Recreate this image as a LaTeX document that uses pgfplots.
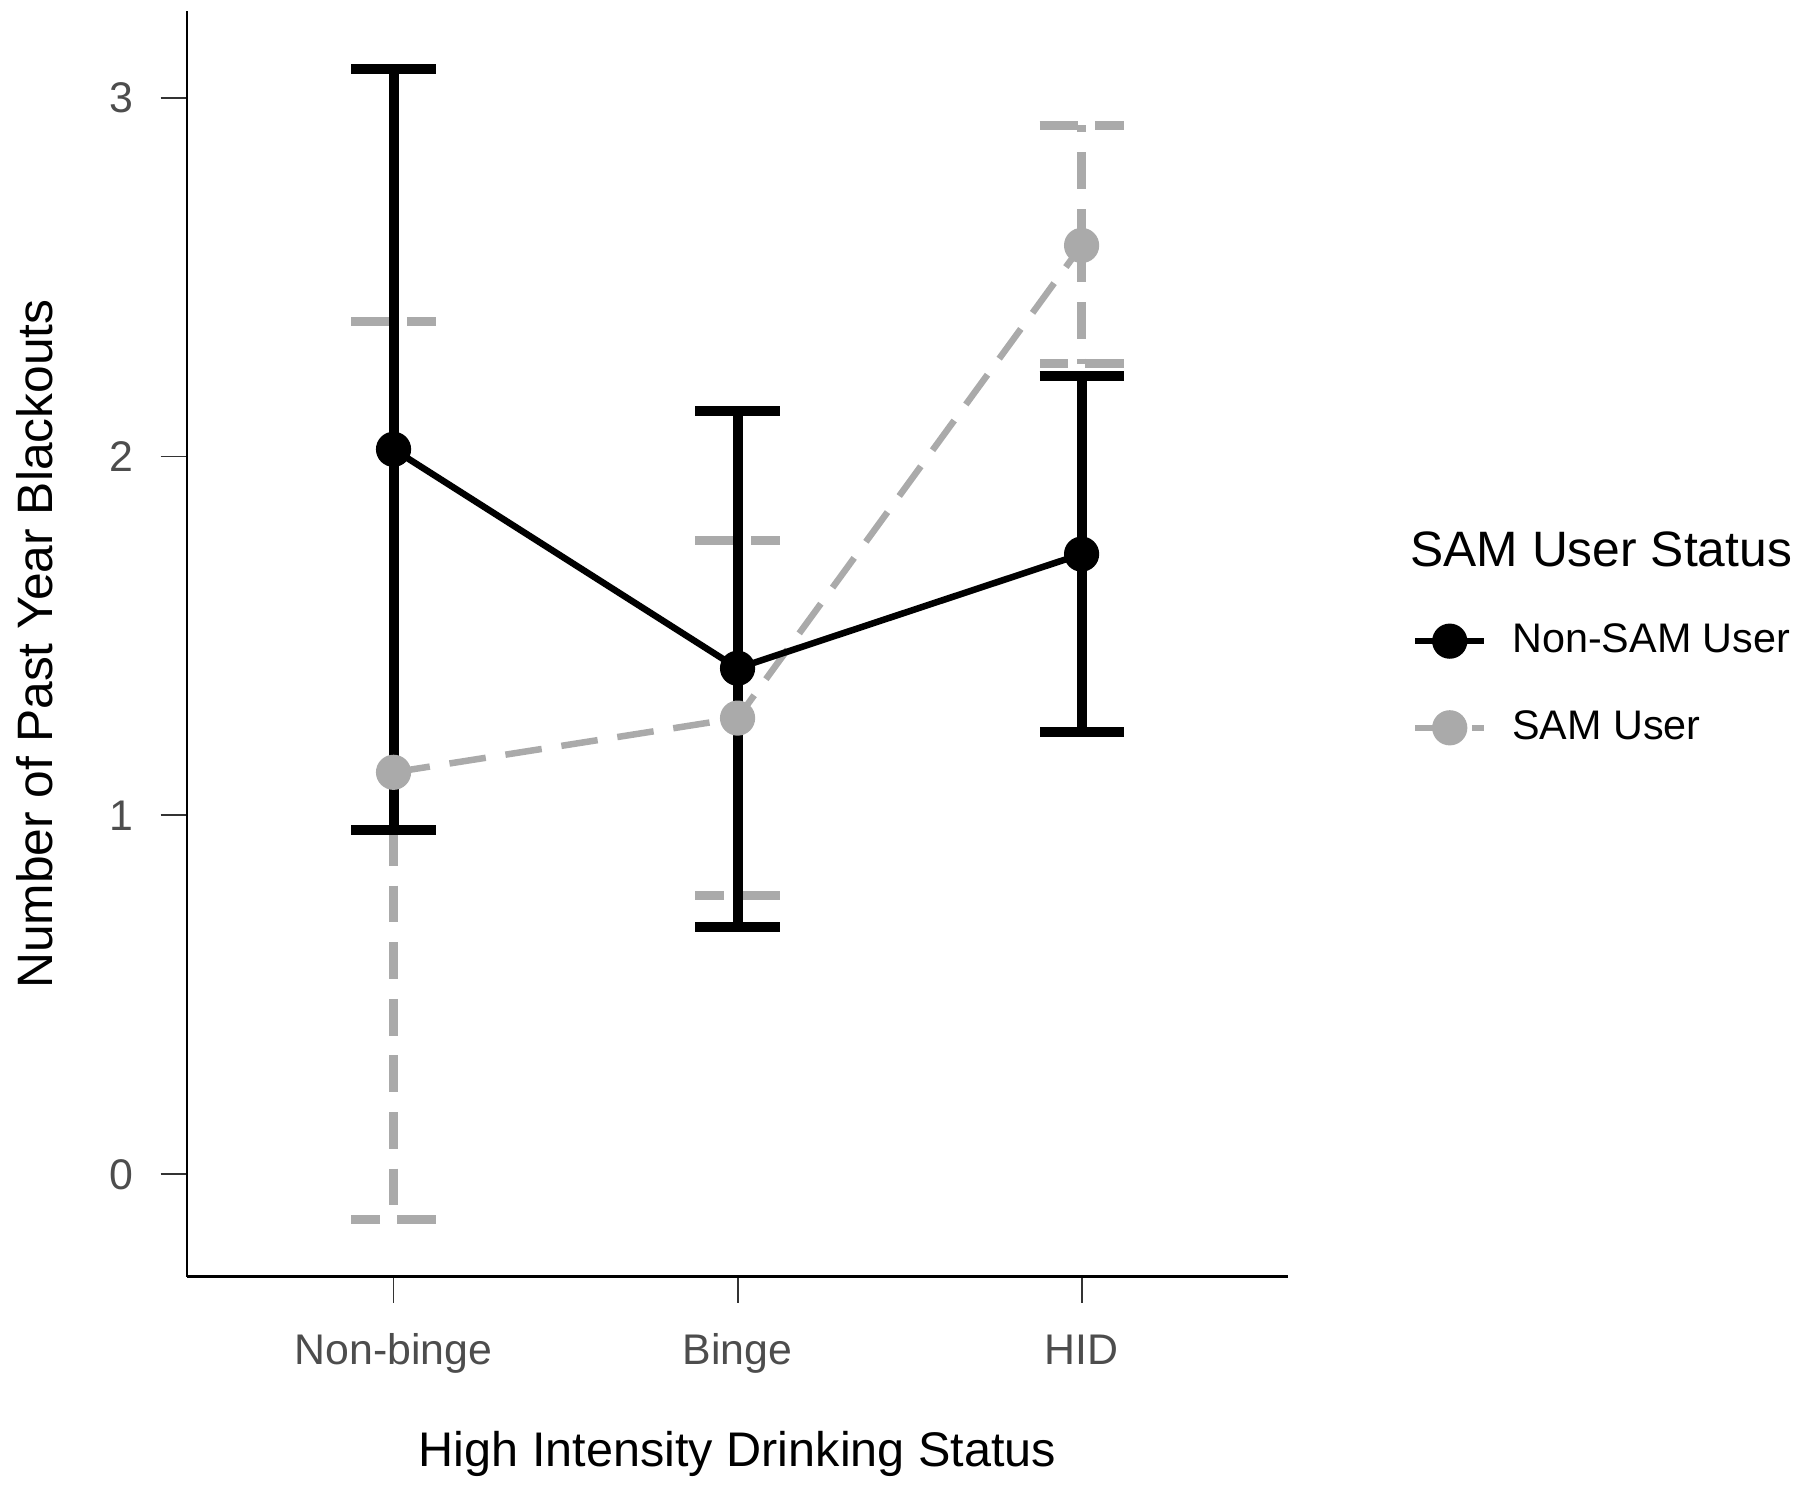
\documentclass[border=0pt]{standalone}
\usepackage{pgfplots}
\pgfplotsset{compat=1.18}
\usepackage{pgfplotstable}
\usepackage{fontspec}
\setmainfont{Liberation Sans}
\definecolor{gry}{RGB}{170,170,170}
\definecolor{tickgray}{RGB}{77,77,77}
\definecolor{tickline}{RGB}{51,51,51}

\pgfplotstableread{
x y ep em
1 2.020 1.060 1.060
2 1.410 0.718 0.722
3 1.728 0.495 0.497
}\nonsam
\pgfplotstableread{
x y ep em
1 1.120 1.255 1.245
2 1.271 0.495 0.495
3 2.588 0.335 0.330
}\sam

\begin{document}
\begin{tikzpicture}
\path[use as bounding box] (-48.9pt,-54.9pt) rectangle (421.5pt,333.6pt);
\begin{axis}[
  at={(0,0)}, anchor=south west,
  scale only axis, width=287.7pt, height=330.6pt,
  xmin=0.4, xmax=3.6, ymin=-0.285, ymax=3.24,
  clip=false,
  axis lines*=left,
  axis line style={line width=0.7pt, black},
  tick align=outside,
  major tick length=6.9pt,
  tick style={line width=0.5pt, tickline},
  xtick={1,2,3},
  xticklabels={Non-binge,Binge,HID},
  ytick={0,1,2,3},
  /pgf/number format/assume math mode=true,
  ticklabel style={font=\fontsize{11.2}{13}\selectfont, text=tickgray},
  yticklabel style={anchor=east, inner sep=0pt, xshift=-6.9pt},
  xticklabel style={anchor=base, inner sep=0pt, yshift=-16pt},
  xlabel={High Intensity Drinking Status},
  xlabel style={at={(axis description cs:0.5,-0.1503)}, anchor=base, font=\fontsize{12.7}{15}\selectfont, inner sep=0pt},
  ylabel={Number of Past Year Blackouts},
  ylabel style={at={(axis description cs:-0.122,0.5)}, anchor=base, font=\fontsize{13}{15}\selectfont, inner sep=0pt},
  legend style={at={(rel axis cs:1.112,0.468)}, anchor=west, draw=none, fill=none,
    inner sep=0pt, font=\fontsize{10.8}{13}\selectfont, row sep=9.6pt, column sep=4.5pt},
  legend cell align=left,
  reverse legend,
  legend image code/.code={\draw[mark repeat=2,mark phase=2] plot coordinates {(0pt,0pt)(9pt,0pt)(18pt,0pt)};},
]
% SAM User (gray, dashed) drawn first so black lies on top
\addplot[gry, line width=1.7pt, dash pattern=on 9.6pt off 5.2pt,
  mark=*, mark size=4.4pt, mark options={solid, fill=gry, draw=gry, line width=0.4pt},
  error bars/.cd, y dir=both, y explicit,
  error bar style={line width=2.3pt, gry, dash pattern=on 9.6pt off 5.2pt},
  error mark=|,
  error mark options={line width=2.3pt, gry, mark size=11pt, dash pattern=on 10pt off 4.5pt}]
  table[x=x, y=y, y error plus=ep, y error minus=em] {\sam};
\addlegendentry{SAM User}
\addplot[black, line width=1.7pt,
  mark=*, mark size=4.4pt, mark options={solid, fill=black, line width=0.4pt},
  error bars/.cd, y dir=both, y explicit,
  error bar style={line width=2.6pt, black, solid},
  error mark=|,
  error mark options={line width=2.6pt, black, solid, mark size=11pt}]
  table[x=x, y=y, y error plus=ep, y error minus=em] {\nonsam};
\addlegendentry{Non-SAM User}
\node[anchor=base west, inner sep=0pt, font=\fontsize{13}{15}\selectfont] at (rel axis cs:1.1105,0.561) {SAM User Status};
\end{axis}
\end{tikzpicture}
\end{document}
